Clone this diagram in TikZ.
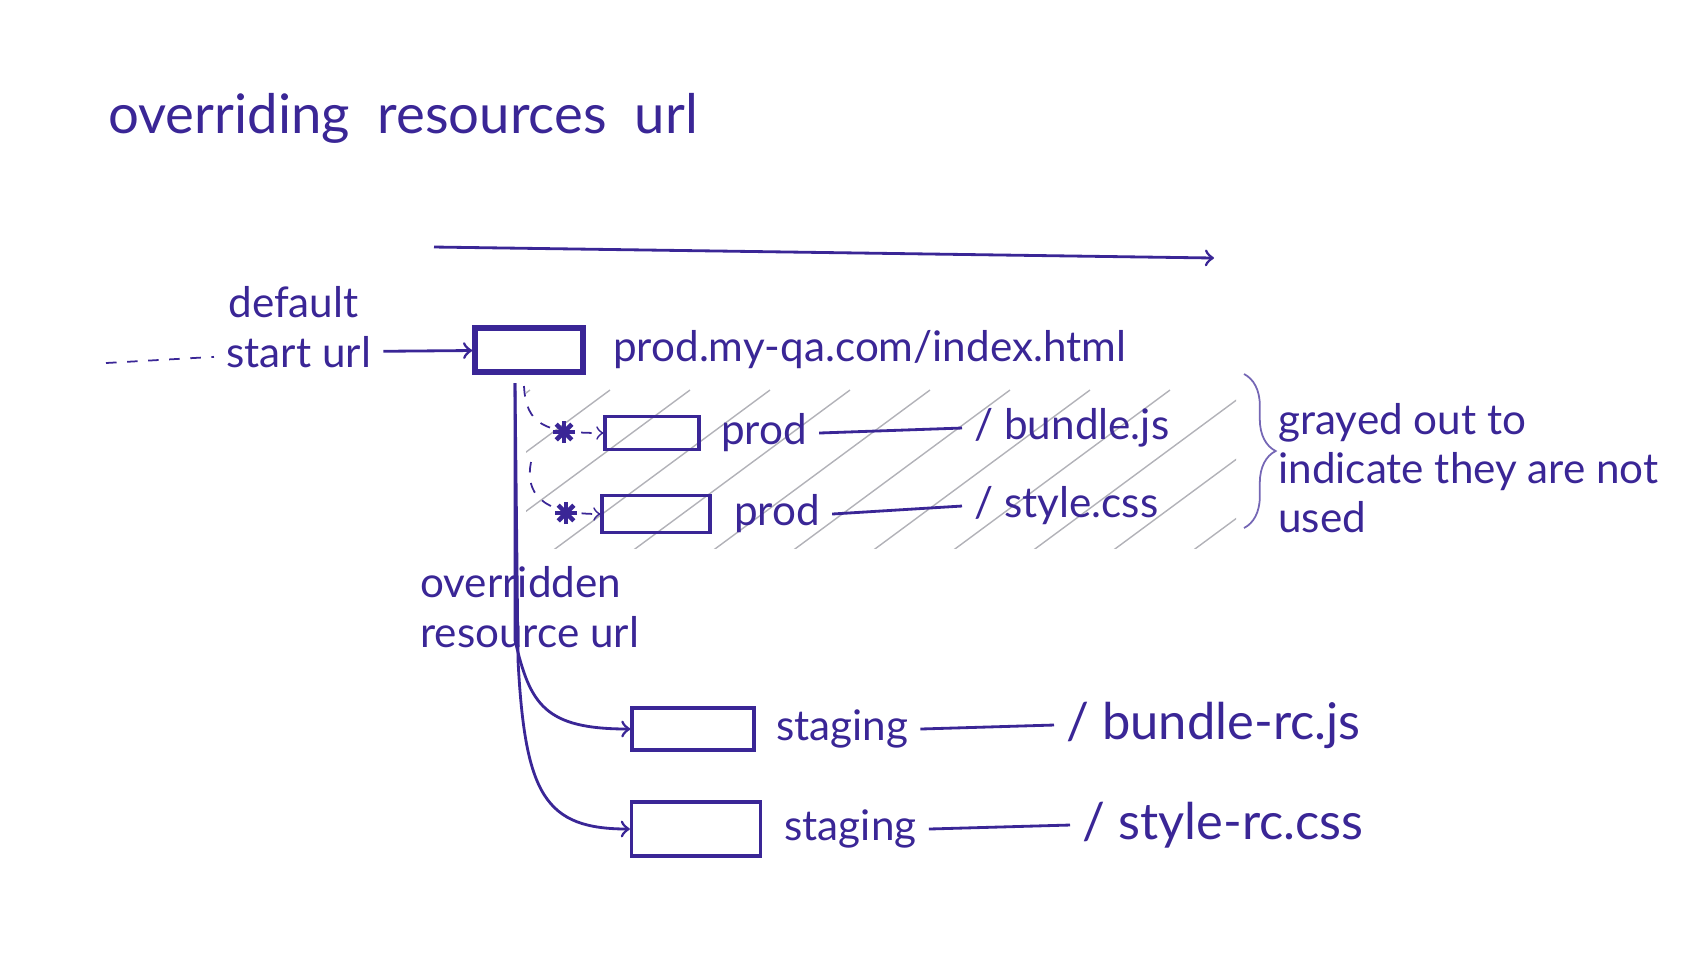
\documentclass[tikz,border=0pt]{standalone}
\usepackage{fontspec}
\setmainfont{Lato}
\usetikzlibrary{positioning,decorations.pathreplacing}
\definecolor{ink}{RGB}{58,38,150}
\definecolor{hatchgray}{RGB}{178,178,184}

\begin{document}
\begin{tikzpicture}[
x = 0.01cm, y = -0.01cm,
node distance = 0.1cm,
every node/.style = {text=ink, font=\large},
page/.style = {draw=ink, line width=0.9pt, inner sep=0pt},
link/.style = {->, draw=ink, line width=0.8pt},
skip/.style = {->, draw=ink, dashed, line width=0.5pt},
rule/.style = {draw=ink, line width=0.8pt},
hatch/.style = {draw=hatchgray, line width=0.4pt},
]
\useasboundingbox (0,0) rectangle (1700,959);

% grayed out rows
\begin{scope}
\clip (526,378) rectangle (1236,548);
\foreach \k in {0,...,12}
  \path[hatch] (300+\k*80,560) -- ++(230,-170) ;
\end{scope}

\node[anchor=west, font=\fontsize{15.5}{18}\selectfont] (title) at (96,118) {overriding \ resources \ url};

\coordinate (t0) at (434,247);
\coordinate (t1) at (1214,258);
\path[link] (t0) -- (t1) ;

\node[page, line width=1.6pt, minimum width=1.08cm, minimum height=0.44cm] (start) at (529,350) {};
\node[right = 0.15cm of start] (index) {prod.my-qa.com/index.html};

\node[anchor=west] (deflt) at (216,302) {default};
\node[anchor=west] (starturl) at (214,352) {start url};
\coordinate (entry) at (106,363);
\path[rule, dashed, line width=0.5pt] (entry) -- (starturl) ;
\path[link] (starturl) -- (start) ;

\node[page, minimum width=0.94cm, minimum height=0.33cm] (oldjs) at (652,433) {};
\node[right = 0.08cm of oldjs] (prodjs) {prod};
\node[anchor=west] (pathjs) at (962,428) {/ bundle.js};
\path[rule] (prodjs.east) -- (pathjs.west) ;

\node[page, minimum width=1.08cm, minimum height=0.37cm] (oldcss) at (656,514) {};
\node[right = 0.1cm of oldcss] (prodcss) {prod};
\node[anchor=west] (pathcss) at (962,506) {/ style.css};
\path[rule] (prodcss.east) -- (pathcss.west) ;

\coordinate (skip1) at (524,386);
\coordinate (skip2) at (531,462);
\path[skip] (skip1) .. controls (526,425) and (545,433) .. (oldjs.west) ;
\path[skip] (skip2) .. controls (525,492) and (540,514) .. (oldcss.west) ;
\foreach \p in {(564,432), (566,513)}
  \foreach \a in {0,45,90,135}
    \path[draw=ink, line width=1.3pt] \p ++(\a:11) -- ++(\a+180:22) ;

\node[anchor=west, align=left] (ovr) at (408,607) {overridden\\resource url};

\node[page, minimum width=1.22cm, minimum height=0.42cm] (newjs) at (693,729) {};
\node[right = 0.08cm of newjs] (stgjs) {staging};
\node[anchor=west, font=\Large] (pathnewjs) at (1054,725) {/ bundle-rc.js};
\path[rule] (stgjs.east) -- (pathnewjs.west) ;

\node[page, minimum width=1.29cm, minimum height=0.54cm] (newcss) at (696,829) {};
\node[right = 0.1cm of newcss] (stgcss) {staging};
\node[anchor=west, font=\Large] (pathnewcss) at (1070,825) {/ style-rc.css};
\path[rule] (stgcss.east) -- (pathnewcss.west) ;

\coordinate (fork) at (515,383);
\path[link] (fork) -- (515,640) .. controls (530,705) and (545,729) .. (newjs.west) ;
\path[link] (fork) -- (518,660) .. controls (525,795) and (545,829) .. (newcss.west) ;

\coordinate (b0) at (1244,374);
\coordinate (b1) at (1244,528);
\path[draw=ink!70, line width=0.5pt, decorate, decoration={brace, amplitude=9pt}] (b0) -- (b1) ;
\node[anchor=west, align=left] (note) at (1266,468) {grayed out to\\indicate they are not\\used};

\end{tikzpicture}
\end{document}
